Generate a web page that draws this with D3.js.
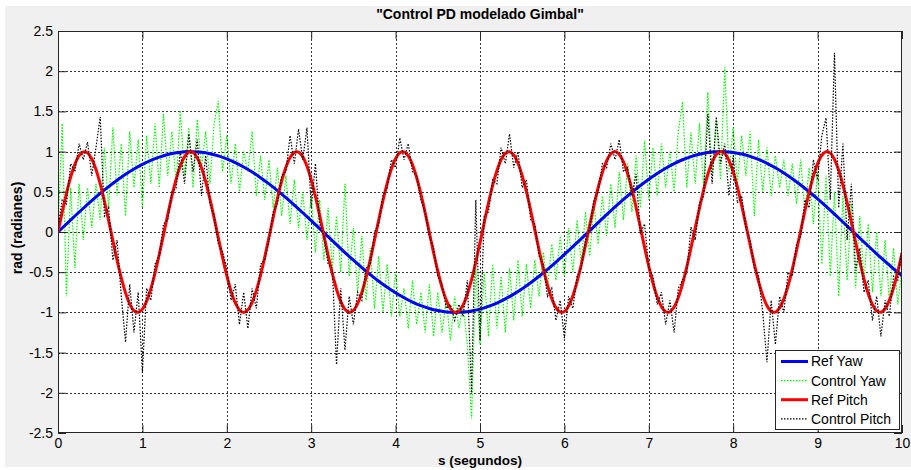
<!DOCTYPE html>
<html><head><meta charset="utf-8">
<script src="https://cdn.jsdelivr.net/npm/d3@7/dist/d3.min.js"></script>
<style>
html,body{margin:0;padding:0;background:#fff;}
svg{display:block;font-family:"Liberation Sans",Arial,Helvetica,sans-serif;}
</style></head>
<body><svg id="chart" width="911" height="470"></svg>
<script>
// ---- data ----
const title = '"Control PD modelado Gimbal"';
const xLabel = 's (segundos)';
const yLabel = 'rad (radianes)';
const seriesNames = ['Ref Yaw', 'Control Yaw', 'Ref Pitch', 'Control Pitch'];
const xTicks = [0,1,2,3,4,5,6,7,8,9,10];
const xTickLabels = ['0','1','2','3','4','5','6','7','8','9','10'];
const yTicks = [-2.5,-2,-1.5,-1,-0.5,0,0.5,1,1.5,2,2.5];
const yTickLabels = ['-2.5','-2','-1.5','-1','-0.5','0','0.5','1','1.5','2','2.5'];

// Ref Yaw sampled every 0.1 s
const refYawStep = 0.1;
const refYaw = [0,0.0998,0.1987,0.2955,0.3894,0.4794,0.5646,0.6442,0.7174,0.7833,
0.8415,0.8912,0.9320,0.9636,0.9854,0.9975,0.9996,0.9917,0.9738,0.9463,
0.9093,0.8632,0.8085,0.7457,0.6755,0.5985,0.5155,0.4274,0.3350,0.2392,
0.1411,0.0416,-0.0584,-0.1577,-0.2555,-0.3508,-0.4425,-0.5298,-0.6119,-0.6878,
-0.7568,-0.8183,-0.8716,-0.9162,-0.9516,-0.9775,-0.9937,-0.9999,-0.9962,-0.9825,
-0.9589,-0.9258,-0.8835,-0.8323,-0.7728,-0.7055,-0.6313,-0.5507,-0.4646,-0.3739,
-0.2794,-0.1822,-0.0831,0.0168,0.1165,0.2151,0.3115,0.4048,0.4941,0.5784,
0.6570,0.7290,0.7937,0.8504,0.8987,0.9380,0.9679,0.9882,0.9985,0.9989,
0.9894,0.9699,0.9407,0.9022,0.8546,0.7985,0.7344,0.6630,0.5849,0.5010,
0.4121,0.3191,0.2229,0.1245,0.0248,-0.0752,-0.1743,-0.2718,-0.3665,-0.4575,
-0.5440];

// Other series sampled every 0.05 s
const step = 0.05;
const refPitch = [0,0.247,0.479,0.682,0.841,0.949,0.997,0.984,0.909,0.778,
0.598,0.382,0.141,-0.108,-0.351,-0.572,-0.757,-0.895,-0.978,-0.999,
-0.959,-0.859,-0.706,-0.508,-0.279,-0.033,0.215,0.450,0.657,0.823,
0.938,0.995,0.989,0.922,0.798,0.625,0.412,0.174,-0.075,-0.320,
-0.544,-0.735,-0.880,-0.970,-1.000,-0.968,-0.876,-0.729,-0.537,-0.311,
-0.066,0.183,0.420,0.632,0.804,0.926,0.991,0.994,0.935,0.818,
0.650,0.442,0.207,-0.042,-0.288,-0.516,-0.712,-0.864,-0.961,-1.000,
-0.976,-0.891,-0.751,-0.564,-0.343,-0.099,0.150,0.390,0.606,0.784,
0.913,0.986,0.997,0.946,0.837,0.675,0.472,0.239,-0.009,-0.256,
-0.487,-0.688,-0.846,-0.952,-0.998,-0.982,-0.906,-0.773,-0.591,-0.374,
-0.132,0.117,0.359,0.579,0.762,0.899,0.979,0.999,0.957,0.855,
0.699,0.501,0.271,0.024,-0.224,-0.458,-0.664,-0.828,-0.941,-0.996,
-0.988,-0.919,-0.793,-0.618,-0.404,-0.165,0.084,0.328,0.552,0.741,
0.884,0.972,1.000,0.965,0.871,0.723,0.529,0.303,0.058,-0.191,
-0.428,-0.638,-0.809,-0.929,-0.992,-0.993,-0.932,-0.813,-0.644,-0.434,
-0.198,0.051,0.296,0.524,0.718,0.868,0.964,1.000,0.974,0.887,
0.745,0.557,0.334,0.091,-0.159,-0.398,-0.613,-0.789,-0.916,-0.987,
-0.996,-0.943,-0.832,-0.669,-0.464,-0.230,0.018,0.265,0.495,0.695,
0.851,0.955,0.999,0.981,0.902,0.767,0.584,0.365,0.124,-0.126,
-0.367,-0.586,-0.768,-0.903,-0.981,-0.998,-0.954,-0.850,-0.693,-0.493,
-0.262];

const controlYaw = [0.02,1.35,-0.80,0.55,-0.45,0.60,-0.10,0.55,0.05,0.60,
0.15,1.05,0.30,1.30,0.45,1.10,0.20,1.25,0.55,1.15,
0.30,1.20,0.60,1.35,0.55,1.47,0.70,1.25,0.60,1.51,
0.70,1.30,0.55,1.40,0.80,1.25,0.60,1.35,1.63,0.75,
1.20,0.60,1.10,0.50,1.00,0.75,1.25,0.45,0.95,0.40,
0.90,0.30,0.80,0.20,0.70,0.10,0.65,0.05,0.50,-0.10,
0.45,-0.25,0.40,-0.35,0.30,-0.45,0.20,-0.50,0.60,-0.55,
0.05,-0.75,-0.05,-0.85,-0.20,-0.95,-0.30,-1.00,-0.40,-1.05,
-0.50,-1.05,-0.70,-1.20,-0.60,-1.15,-0.75,-1.25,-0.65,-1.30,
-0.75,-1.25,-0.85,-1.35,-0.80,-1.20,-0.90,-1.40,-2.32,-0.45,
-1.40,-0.50,-1.30,-0.40,-1.20,-0.55,-1.25,-0.45,-1.10,-0.35,
-1.05,-0.40,-0.95,-0.35,-0.80,-0.25,-0.70,-0.15,-0.60,-0.05,
-0.55,0.05,-0.50,0.15,-0.40,0.25,-0.30,0.35,-0.15,0.45,
-0.05,0.60,0.05,0.75,0.15,0.85,0.25,0.95,0.30,1.14,
0.40,1.05,0.45,1.10,0.55,1.00,0.50,1.25,1.62,0.55,
1.24,0.60,1.35,0.55,1.74,0.70,1.40,0.65,2.05,0.75,
1.30,0.60,1.20,0.70,1.25,0.20,1.15,0.50,1.05,0.45,
0.95,0.55,0.90,0.45,0.85,0.35,0.90,0.25,0.80,0.10,
0.75,-0.40,0.70,-0.55,0.50,-0.80,0.45,-0.60,0.35,-0.70,
0.20,-0.60,0.10,-0.75,0.00,-0.80,-0.10,-0.85,-0.20,-0.90,
-0.45];

const controlPitch = [0.05,0.40,0.35,0.85,0.75,1.10,0.90,1.12,0.70,1.05,
1.43,0.20,0.30,-0.35,-0.10,-0.80,-1.37,-0.65,-1.25,-0.75,
-1.75,-0.70,-0.85,-0.40,-0.30,0.10,0.15,0.50,0.55,1.00,
0.60,1.22,0.75,1.15,0.45,0.95,0.35,0.20,-0.15,-0.25,
-0.45,-0.85,-0.65,-1.15,-0.75,-1.20,-0.70,-0.95,-0.40,-0.35,
-0.10,0.25,0.35,0.70,0.75,1.20,0.85,1.28,0.90,1.30,
0.30,0.85,0.10,-0.05,-0.40,-0.45,-1.65,-0.70,-1.47,-0.80,
-1.15,-0.75,-0.85,-0.45,-0.40,0.00,0.10,0.45,0.55,0.90,
0.80,1.17,0.90,1.10,0.75,0.70,0.40,0.25,-0.05,-0.20,
-0.55,-0.65,-0.95,-0.90,-1.10,-0.90,-1.05,-0.60,-2.00,0.40,
-1.35,0.20,0.25,0.65,0.60,1.05,0.85,1.22,0.80,1.00,
0.55,0.65,0.15,0.10,-0.30,-0.40,-0.80,-0.70,-1.10,-0.85,
-1.32,-0.80,-0.95,-0.55,-0.45,-0.10,0.05,0.40,0.50,0.85,
0.80,1.10,0.90,1.15,0.75,0.80,0.45,0.72,-0.02,0.10,
-0.45,-0.55,-0.90,-0.75,-1.15,-0.85,-1.25,-0.70,-0.60,-0.50,
0.06,-0.10,0.35,0.45,1.47,0.60,1.43,0.85,1.10,0.45,
0.95,0.36,0.45,0.05,-0.10,-0.45,-0.55,-1.00,-1.62,-0.85,
-1.40,-0.80,-1.00,-0.50,-0.55,-0.15,-0.05,0.40,0.30,0.90,
0.65,1.20,1.42,0.40,2.23,0.30,1.10,-0.10,0.60,-0.48,
-0.20,-0.75,-0.60,-1.10,-0.80,-1.30,-0.85,-1.05,-0.55,-0.60,
-0.20];

// ---- drawing ----
const W = 911, H = 470;
const L = 58, R = 902, T = 31, B = 433;
const svg = d3.select('#chart');

svg.append('rect').attr('x',5).attr('y',6).attr('width',W-5).attr('height',461).attr('fill','#f0f0f0');
svg.append('rect').attr('x',L).attr('y',T).attr('width',R-L).attr('height',B-T).attr('fill','#fff');

const x = d3.scaleLinear().domain([0,10]).range([L,R]);
const y = d3.scaleLinear().domain([-2.5,2.5]).range([B,T]);

// grid
const grid = svg.append('g').attr('stroke','#000').attr('stroke-width',1).attr('stroke-dasharray','2,2').attr('stroke-opacity',0.8);
xTicks.slice(1,-1).forEach(v => grid.append('line').attr('x1',Math.round(x(v))+0.5).attr('x2',Math.round(x(v))+0.5).attr('y1',T).attr('y2',B));
yTicks.slice(1,-1).forEach(v => grid.append('line').attr('y1',Math.round(y(v))+0.5).attr('y2',Math.round(y(v))+0.5).attr('x1',L).attr('x2',R));

// clip
svg.append('clipPath').attr('id','clip').append('rect').attr('x',L).attr('y',T).attr('width',R-L).attr('height',B-T);
const plot = svg.append('g').attr('clip-path','url(#clip)');

const lineGen = (dt, curve) => d3.line().x((d,i)=>x(i*dt)).y(d=>y(d)).curve(curve);

plot.append('path').datum(controlYaw).attr('d', lineGen(step, d3.curveLinear))
  .attr('fill','none').attr('stroke','#00ff00').attr('stroke-width',1.2).attr('stroke-dasharray','1.5,1.5');
plot.append('path').datum(refYaw).attr('d', lineGen(refYawStep, d3.curveCatmullRom))
  .attr('fill','none').attr('stroke','#0000ff').attr('stroke-width',3);
plot.append('path').datum(refPitch).attr('d', lineGen(step, d3.curveCatmullRom))
  .attr('fill','none').attr('stroke','#ff0000').attr('stroke-width',3);
plot.append('path').datum(controlPitch).attr('d', lineGen(step, d3.curveLinear))
  .attr('fill','none').attr('stroke','#000').attr('stroke-width',1.2).attr('stroke-dasharray','1.5,1.5');

// axes
const axColor = '#262626';
function styleAxis(g){
  g.select('.domain').remove();
  g.selectAll('.tick line').attr('stroke',axColor);
  g.selectAll('.tick text').attr('fill','#000').attr('font-size','14px')
   .attr('font-family','"Liberation Sans",Arial,sans-serif');
}
svg.append('g').attr('transform',`translate(0,${B})`)
  .call(d3.axisBottom(x).tickValues(xTicks).tickSize(-8).tickPadding(5).tickFormat((d,i)=>xTickLabels[i]))
  .call(styleAxis);
svg.append('g').attr('transform',`translate(0,${T})`)
  .call(d3.axisTop(x).tickValues(xTicks).tickSize(-8).tickFormat(''))
  .call(styleAxis);
svg.append('g').attr('transform',`translate(${L},0)`)
  .call(d3.axisLeft(y).tickValues(yTicks).tickSize(-8).tickPadding(5).tickFormat((d,i)=>yTickLabels[i]))
  .call(styleAxis);
svg.append('g').attr('transform',`translate(${R},0)`)
  .call(d3.axisRight(y).tickValues(yTicks).tickSize(-8).tickFormat(''))
  .call(styleAxis);

svg.append('rect').attr('x',L+0.5).attr('y',T+0.5).attr('width',R-L-1).attr('height',B-T-1)
  .attr('fill','none').attr('stroke',axColor).attr('stroke-width',1);

// labels
svg.append('text').attr('x',(L+R)/2).attr('y',19).attr('text-anchor','middle')
  .attr('font-size','14px').attr('font-weight','bold').text(title);
svg.append('text').attr('x',(L+R)/2).attr('y',465).attr('text-anchor','middle')
  .attr('font-size','13.5px').attr('font-weight','bold').text(xLabel);
svg.append('text').attr('transform','translate(22,228) rotate(-90)').attr('text-anchor','middle')
  .attr('font-size','14px').attr('font-weight','bold').text(yLabel);

// legend
const lg = svg.append('g');
lg.append('rect').attr('x',775.5).attr('y',350.5).attr('width',124).attr('height',79)
  .attr('fill','#fff').attr('stroke',axColor);
const legStyles = [
  {c:'#0000ff', w:3, dash:null},
  {c:'#00ff00', w:1.2, dash:'1.5,1.5'},
  {c:'#ff0000', w:3, dash:null},
  {c:'#000', w:1.2, dash:'1.5,1.5'}
];
seriesNames.forEach((name,i)=>{
  const yy = 361.5 + i*19.1;
  const s = legStyles[i];
  lg.append('line').attr('x1',781).attr('x2',808).attr('y1',yy).attr('y2',yy)
    .attr('stroke',s.c).attr('stroke-width',s.w).attr('stroke-dasharray',s.dash);
  lg.append('text').attr('x',811).attr('y',yy).attr('dy','0.35em').attr('font-size','14px').text(name);
});
</script></body></html>
